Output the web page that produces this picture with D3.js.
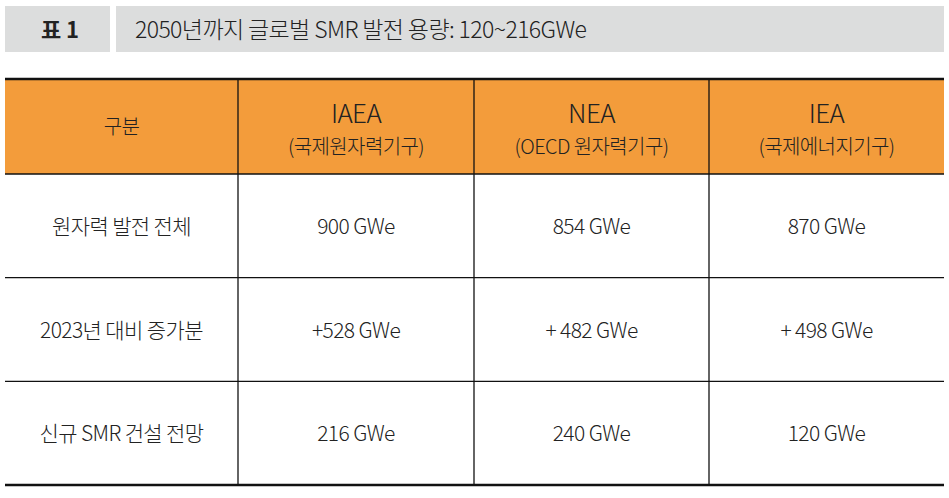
<!DOCTYPE html>
<html><head><meta charset="utf-8">
<script src="https://cdn.jsdelivr.net/npm/d3@7"></script>
<style>body{margin:0;background:#fff}</style>
</head><body>
<svg width="949" height="498"></svg>
<script>
"use strict";

const tableNo = "표 1";
const title = "2050년까지 글로벌 SMR 발전 용량: 120~216GWe";
const headers = [["구분"], ["IAEA", "(국제원자력기구)"], ["NEA", "(OECD 원자력기구)"], ["IEA", "(국제에너지기구)"]];
const rowLabels = ["원자력 발전 전체", "2023년 대비 증가분", "신규 SMR 건설 전망"];
const iaea = ["900 GWe", "+528 GWe", "216 GWe"];
const nea = ["854 GWe", "+ 482 GWe", "240 GWe"];
const iea = ["870 GWe", "+ 498 GWe", "120 GWe"];

const font = "'Noto Sans CJK KR', 'Noto Sans', sans-serif";
const svg = d3.select("svg");

// 제목 박스
svg.append("rect").attr("x", 5).attr("y", 6).attr("width", 105).attr("height", 46).style("fill", "#dcdddd");
svg.append("rect").attr("x", 116).attr("y", 6).attr("width", 828).attr("height", 46).style("fill", "#dcdddd");
svg.append("text").attr("x", 60).attr("y", 38).attr("text-anchor", "middle")
  .style("font-family", font).style("font-size", "22px").style("font-weight", "bold").style("fill", "#222").text(tableNo);
svg.append("text").attr("x", 135).attr("y", 38)
  .style("font-family", font).style("font-size", "23px").style("font-weight", "300").style("letter-spacing", "-0.6px")
  .style("fill", "#222").text(title);

// 표
const colEdges = [5, 238, 474, 709, 944];
const x = d3.scaleOrdinal().domain(d3.range(4)).range(colEdges.slice(0, 4));
const w = i => colEdges[i + 1] - colEdges[i];
const y = d3.scaleBand().domain(rowLabels).range([174, 485]);

svg.append("rect").attr("x", 5).attr("y", 79).attr("width", 939).attr("height", 95).style("fill", "#f39c3b");

const txt = (xx, yy, s, size) => svg.append("text").attr("x", xx).attr("y", yy).attr("text-anchor", "middle")
  .style("font-family", font).style("font-size", size).style("font-weight", "300")
  .style("letter-spacing", "-0.6px").style("fill", "#222").text(s);

headers.forEach((h, i) => {
  const cx = x(i) + w(i) / 2;
  if (h.length === 1) {
    txt(cx, 134, h[0], "20px");
  } else {
    txt(cx, 123, h[0], "26px");
    txt(cx, 154, h[1], "20px");
  }
});

const rows = rowLabels.map((r, i) => [r, iaea[i], nea[i], iea[i]]);
rows.forEach(r => {
  r.forEach((v, i) => txt(x(i) + w(i) / 2, y(r[0]) + y.bandwidth() / 2 + 8, v, "21px"));
});

// 선
[174].concat(rowLabels.slice(1).map(d => y(d))).forEach(yy => {
  svg.append("line").attr("x1", 5).attr("x2", 944).attr("y1", yy).attr("y2", yy).style("stroke", "#111").style("stroke-width", "1.3px");
});
colEdges.slice(1, 4).forEach(xx => {
  svg.append("line").attr("x1", xx).attr("x2", xx).attr("y1", 79).attr("y2", 485).style("stroke", "#111").style("stroke-width", "1.3px");
});
[79, 485].forEach(yy => {
  svg.append("line").attr("x1", 5).attr("x2", 944).attr("y1", yy).attr("y2", yy).style("stroke", "#111").style("stroke-width", "2.5px");
});
</script>
</body></html>
